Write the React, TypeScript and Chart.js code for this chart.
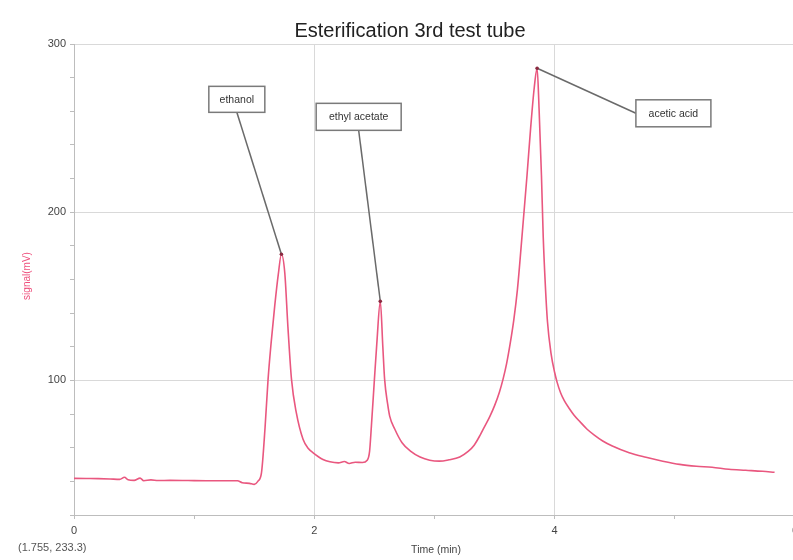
import React, { useEffect, useRef } from "react";
import { Chart, registerables } from "chart.js";

Chart.register(...registerables);

const TITLE = "Esterification 3rd test tube";
const X_TITLE = "Time (min)";
const Y_TITLE = "signal(mV)";
const CURSOR_READOUT = "(1.755, 233.3)";

const timeMin = [
  0.0, 0.1, 0.2, 0.3, 0.38, 0.42, 0.45, 0.5, 0.55, 0.58, 0.64, 0.7, 0.8, 0.95, 1.1, 1.25, 1.36, 1.4, 1.46, 1.5,
  1.53, 1.56, 1.59, 1.615, 1.64, 1.67, 1.7, 1.726, 1.754, 1.78, 1.81, 1.85, 1.906, 1.95, 1.99, 2.072, 2.13, 2.2,
  2.25, 2.29, 2.34, 2.4, 2.44, 2.46, 2.475, 2.5, 2.52, 2.549, 2.57, 2.585, 2.61, 2.627, 2.67, 2.73, 2.8, 2.88,
  2.96, 3.04, 3.12, 3.21, 3.28, 3.33, 3.38, 3.42, 3.46, 3.5, 3.54, 3.57, 3.6, 3.63, 3.66, 3.69, 3.71, 3.74, 3.77,
  3.8, 3.83, 3.854, 3.87, 3.89, 3.905, 3.92, 3.94, 3.97, 4.0, 4.02, 4.05, 4.08, 4.12, 4.16, 4.21, 4.27, 4.33,
  4.4, 4.48, 4.62, 4.76, 4.9, 5.04, 5.18, 5.31, 5.45, 5.59, 5.73, 5.83,
];

const signalMV = [
  41.8, 41.7, 41.6, 41.4, 41.2, 42.4, 41.0, 40.6, 41.9, 40.4, 40.9, 40.5, 40.6, 40.5, 40.4, 40.4, 40.4, 39.2, 38.8,
  38.2, 40.0, 45.0, 72.0, 100.6, 122.0, 144.0, 163.0, 175.0, 164.0, 132.0, 100.6, 80.8, 65.0, 59.5, 57.0, 53.0,
  51.6, 51.0, 51.8, 50.6, 51.4, 51.2, 52.5, 58.0, 73.0, 100.6, 122.0, 147.0, 120.0, 100.6, 86.0, 78.8, 71.0, 63.0,
  58.0, 54.5, 52.6, 52.0, 52.8, 54.5, 57.8, 61.5, 67.5, 73.0, 78.5, 85.0, 93.0, 100.6, 110.0, 122.0, 136.0, 154.0,
  170.0, 196.0, 222.0, 250.0, 274.0, 285.6, 262.0, 222.0, 185.0, 160.0, 135.0, 116.0, 104.7, 99.0, 92.5, 88.0,
  83.5, 79.5, 75.5, 71.0, 67.5, 64.0, 61.0, 57.0, 54.3, 52.0, 50.1, 49.0, 48.4, 47.2, 46.6, 46.0, 45.4,
];

const xTickLabels = ["0", "2", "4", "6"];
const yTickLabels = ["100", "200", "300"];

const peakLabels = ["ethanol", "ethyl acetate", "acetic acid"];
const peakTimes = [1.726, 2.549, 3.854];

// callout box placement (data units) and where the leader line meets the box
const CALLOUTS = [
  { t: 1.355, v: 267.1, w: 56, h: 26, side: "bottom" },
  { t: 2.369, v: 256.7, w: 85, h: 27, side: "bottom" },
  { t: 4.988, v: 258.8, w: 75, h: 27, side: "left" },
];

const LINE_COLOR = "#e9577f";
const GRID_COLOR = "#d9d9d9";
const AXIS_COLOR = "#bdbdbd";
const FONT = "'Liberation Sans', Arial, sans-serif";

const overlayPlugin = {
  id: "overlay",
  afterDraw(chart: any) {
    const ctx = chart.ctx as CanvasRenderingContext2D;
    const xs = chart.scales.x;
    const ys = chart.scales.y;
    ctx.save();

    // title
    ctx.fillStyle = "#222";
    ctx.font = `20px ${FONT}`;
    ctx.textAlign = "center";
    ctx.textBaseline = "alphabetic";
    ctx.fillText(TITLE, 410, 36.5);

    // x title
    ctx.fillStyle = "#444";
    ctx.font = `10.5px ${FONT}`;
    ctx.textBaseline = "middle";
    ctx.fillText(X_TITLE, 436, 550);

    // cursor readout
    ctx.textAlign = "left";
    ctx.font = `11px ${FONT}`;
    ctx.fillStyle = "#555";
    ctx.fillText(CURSOR_READOUT, 18, 548);

    // y title
    ctx.save();
    ctx.translate(27, 276);
    ctx.rotate(-Math.PI / 2);
    ctx.textAlign = "center";
    ctx.fillStyle = "#ee4f7c";
    ctx.font = `10px ${FONT}`;
    ctx.fillText(Y_TITLE, 0, 0);
    ctx.restore();

    // callouts
    peakLabels.forEach((label, i) => {
      const idx = timeMin.indexOf(peakTimes[i]);
      const px = xs.getPixelForValue(timeMin[idx]);
      const py = ys.getPixelForValue(signalMV[idx]);
      const c = CALLOUTS[i];
      const cx = xs.getPixelForValue(c.t);
      const cy = ys.getPixelForValue(c.v);
      let ax = cx;
      let ay = cy + c.h / 2;
      if (c.side === "left") {
        ax = cx - c.w / 2;
        ay = cy;
      }
      ctx.strokeStyle = "#6a6a6a";
      ctx.lineWidth = 1.5;
      ctx.beginPath();
      ctx.moveTo(px, py);
      ctx.lineTo(ax, ay);
      ctx.stroke();

      ctx.fillStyle = "#fff";
      ctx.fillRect(cx - c.w / 2, cy - c.h / 2, c.w, c.h);
      ctx.strokeStyle = "#7a7a7a";
      ctx.lineWidth = 1.5;
      ctx.strokeRect(cx - c.w / 2, cy - c.h / 2, c.w, c.h);

      ctx.fillStyle = "#333";
      ctx.font = `10.5px ${FONT}`;
      ctx.textAlign = "center";
      ctx.textBaseline = "middle";
      ctx.fillText(label, cx, cy + 0.5);

      ctx.fillStyle = "#8a2a40";
      ctx.beginPath();
      ctx.arc(px, py, 1.8, 0, Math.PI * 2);
      ctx.fill();
    });

    ctx.restore();
  },
};

export default function App() {
  const canvasRef = useRef<HTMLCanvasElement | null>(null);

  useEffect(() => {
    if (!canvasRef.current) return;
    const chart = new Chart(canvasRef.current, {
      type: "line",
      data: {
        datasets: [
          {
            data: timeMin.map((t, i) => ({ x: t, y: signalMV[i] })),
            borderColor: LINE_COLOR,
            borderWidth: 1.6,
            pointRadius: 0,
            fill: false,
            cubicInterpolationMode: "monotone",
          },
        ],
      },
      options: {
        animation: false,
        responsive: false,
        devicePixelRatio: 1,
        layout: { padding: { left: 0, top: 44, right: 25, bottom: 0 } },
        plugins: {
          legend: { display: false },
          title: { display: false },
          tooltip: { enabled: false },
        },
        scales: {
          x: {
            type: "linear",
            min: 0,
            max: 6,
            afterFit: (s: any) => {
              s.height = 45;
            },
            border: { color: AXIS_COLOR, width: 1 },
            grid: {
              color: (c: any) =>
                c.tick && (c.tick.value === 2 || c.tick.value === 4) ? GRID_COLOR : "rgba(0,0,0,0)",
              tickColor: AXIS_COLOR,
              tickLength: 4,
            },
            ticks: {
              stepSize: 1,
              autoSkip: false,
              maxRotation: 0,
              padding: 5,
              color: "#444",
              font: { family: FONT, size: 11 },
              callback: (v: any) => (xTickLabels.includes(String(v)) ? String(v) : ""),
            },
          },
          y: {
            type: "linear",
            min: 20,
            max: 300,
            afterFit: (s: any) => {
              s.width = 74;
            },
            border: { color: AXIS_COLOR, width: 1 },
            grid: {
              color: (c: any) => (c.tick && c.tick.value % 100 === 0 ? GRID_COLOR : "rgba(0,0,0,0)"),
              tickColor: AXIS_COLOR,
              tickLength: 4,
            },
            ticks: {
              stepSize: 20,
              autoSkip: false,
              padding: 4,
              color: "#444",
              font: { family: FONT, size: 11 },
              callback: (v: any) => (yTickLabels.includes(String(v)) ? String(v) : ""),
            },
          },
        },
      },
      plugins: [overlayPlugin],
    } as any);
    return () => chart.destroy();
  }, []);

  return (
    <div
      style={{
        position: "absolute",
        left: 0,
        top: 0,
        width: 793,
        height: 560,
        overflow: "hidden",
        background: "#fff",
      }}
    >
      <canvas ref={canvasRef} width={820} height={560} style={{ width: 820, height: 560, display: "block" }} />
    </div>
  );
}
